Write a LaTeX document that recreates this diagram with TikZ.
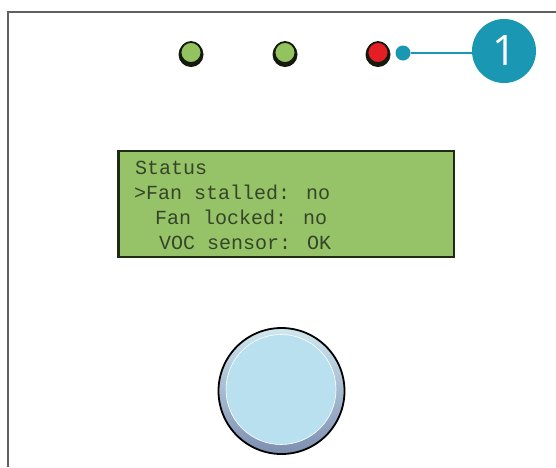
\documentclass[tikz,border=0pt]{standalone}
\usepackage{fontspec}
\newfontfamily\lcdfont{Liberation Mono}
\newfontfamily\callfont{Open Sans}
\definecolor{framec}{HTML}{606060}
\definecolor{ledgreen}{HTML}{93C35E}
\definecolor{ledred}{HTML}{E51E25}
\definecolor{ledrim}{HTML}{141A0C}
\definecolor{callc}{HTML}{1A98B3}
\definecolor{lcdgreen}{HTML}{97C368}
\definecolor{lcdrim}{HTML}{1E2A14}
\definecolor{lcdtext}{HTML}{34452A}
\definecolor{knobtop}{HTML}{CFE8EF}
\definecolor{knobbot}{HTML}{7D8EB0}
\definecolor{knobface}{HTML}{B9E0EF}
\tikzset{
  led/.style={circle, inner sep=0pt, minimum size=21pt, draw=ledrim, line width=1.8pt},
  lcdline/.style={anchor=base west, inner sep=0pt, text=lcdtext, font=\lcdfont\fontsize{20}{20}\selectfont},
  callout/.style={circle, inner sep=0pt, fill=callc}
}
\begin{document}
\begin{tikzpicture}[x=1pt,y=-1pt]
\useasboundingbox (0,0) rectangle (556,467);
\fill[white] (0,0) rectangle (556,467);
\draw[framec, line width=2pt] (8,467) -- (8,11.5) -- (556,11.5);

% LEDs
\fill[ledrim] (191,54.5) circle (12.5);
\fill[ledrim] (285,54.5) circle (12.5);
\fill[ledrim] (378,54.5) circle (12.5);
\node[led, fill=ledgreen] (led1) at (191,52.5) {};
\node[led, fill=ledgreen] (led2) at (285,52.5) {};
\node[led, fill=ledred] (led3) at (378,52.5) {};

% callout
\node[callout, minimum size=15pt] (dot) at (403,53) {};
\node[callout, minimum size=64pt, text=white, font=\callfont\fontsize{42}{42}\selectfont] (c1) at (504,51) {1};
\draw[callc, line width=2.5pt] (dot) -- (dot -| c1.west);

% LCD
\node[rectangle, draw=lcdrim, line width=2pt, fill=lcdgreen, minimum width=335pt, minimum height=106pt, anchor=north west, inner sep=0pt] (lcd) at (118,150) {};
\draw[lcdrim, line width=3pt] (lcd.north west) ++(0.5,0) -- ([xshift=0.5pt]lcd.south west);
\node[lcdline] (l1) at (135,174.5) {Status};
\node[lcdline] (l2) at (134,199.5) {>Fan stalled: no};
\node[lcdline] (l3) at (155,224.5) {Fan locked: no};
\node[lcdline] (l4) at (159,249.5) {VOC sensor: OK};

% knob
\node[circle, inner sep=0pt, minimum size=126pt, draw=black, line width=1.8pt, top color=knobtop, bottom color=knobbot] (knob) at (281.5,391) {};
\node[circle, inner sep=0pt, minimum size=110pt, fill=knobface, draw=white, line width=0.6pt] (face) at (281,389.5) {};
\end{tikzpicture}
\end{document}
